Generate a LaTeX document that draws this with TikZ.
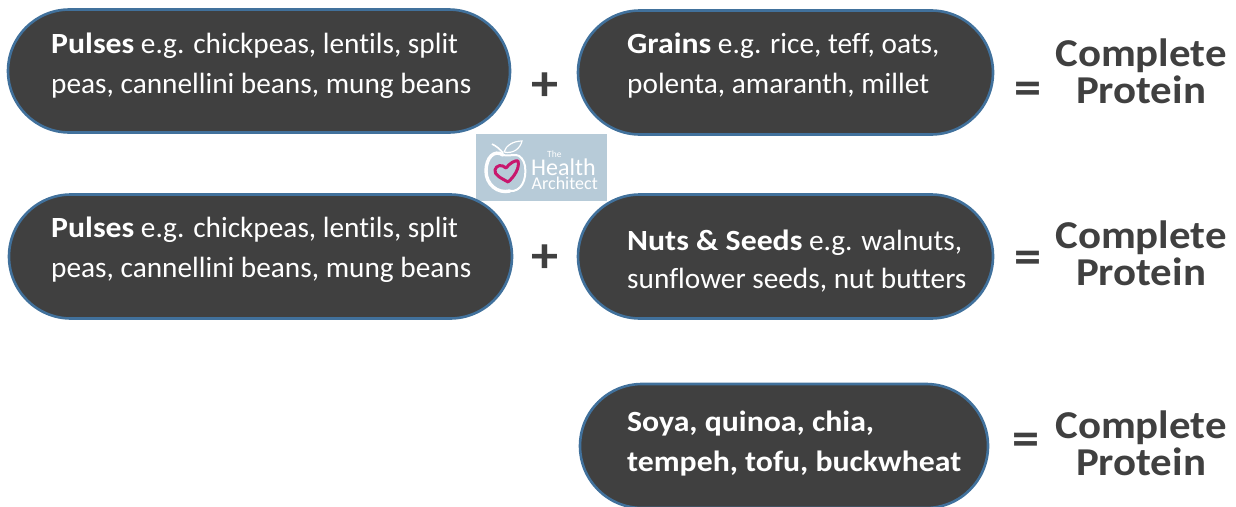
\documentclass[tikz,border=0pt]{standalone}
\usepackage{fontspec}
\setmainfont{Carlito}[RawFeature=-liga,BoldFeatures={FakeStretch=1.085}]
\usetikzlibrary{shapes.misc}
\definecolor{pillfill}{HTML}{404040}
\definecolor{pillline}{HTML}{41719C}
\definecolor{logobg}{HTML}{B7CBD8}
\definecolor{heart}{HTML}{C8186E}
\definecolor{sym}{HTML}{404040}
\tikzset{
 x=1pt,y=-1pt,
 pill/.style={rounded rectangle,rounded rectangle arc length=180,draw=pillline,line width=2.6pt,fill=pillfill,inner sep=0pt},
 pilltext/.style={anchor=base west,inner sep=0pt,text=white,font=\fontsize{29.3pt}{30pt}\selectfont},
 pillbold/.style={pilltext,font=\fontsize{29.3pt}{30pt}\selectfont\bfseries},
 result/.style={anchor=base,inner sep=0pt,text=sym,font=\fontsize{39.5pt}{39pt}\selectfont\bfseries,align=center},
 opsign/.style={anchor=center,inner sep=0pt,text=sym,font=\fontsize{50pt}{42pt}\selectfont\bfseries},
 logotext/.style={anchor=base west,inner sep=0pt,text=white},
}
\begin{document}
\begin{tikzpicture}
\useasboundingbox (0,0) rectangle (1236,506);
\begin{scope}
\clip (0,0) rectangle (1236,506);
% logo
\node[fill=logobg,draw=none,minimum width=131pt,minimum height=67pt,inner sep=0pt] (logo) at (541.5,167.5) {};
\draw[white,line width=3.4pt,line cap=round] (503,155) .. controls (494,149) and (486,158) .. (486,171) .. controls (486,184) and (497,194) .. (510,191);
\draw[white,line width=2pt,line cap=round] (510,191) .. controls (521,192) and (527,180) .. (525,166) .. controls (524,160) and (520,155) .. (516,155) .. controls (511,155) and (507,156) .. (503,155);
\draw[white,line width=1.6pt] (503,153) .. controls (500,149) and (496,146) .. (492,144);
\draw[white,line width=1.2pt] (504,152) .. controls (506,145) and (514,141) .. (522,141) .. controls (520,149) and (513,154) .. (504,152);
\draw[heart,line width=3pt,line join=round] (508,182) .. controls (501,178) and (494,175) .. (495,170) .. controls (496,165) and (502,164) .. (506,168) .. controls (510,163) and (515,160) .. (518,161) .. controls (520,168) and (514,177) .. (508,182) -- cycle;
\node[logotext,font=\fontsize{9.5pt}{10pt}\selectfont] (logothe) at (547,157) {The};
\node[logotext,font=\fontsize{24pt}{22pt}\selectfont] (logohealth) at (531,175) {Health};
\node[logotext,font=\fontsize{18pt}{18pt}\selectfont] (logoarch) at (531.5,189) {Architect};
% pills
\node[pill,minimum width=502pt,minimum height=123pt] (p1) at (259,71) {};
\node[pill,minimum width=415pt,minimum height=124pt] (g1) at (785.5,72.5) {};
\node[pill,minimum width=503pt,minimum height=124pt] (p2) at (260.5,256.5) {};
\node[pill,minimum width=415pt,minimum height=124pt] (n1) at (785.5,256.5) {};
\node[pill,minimum width=408pt,minimum height=124pt] (s1) at (784,446) {};
% pill text
\node[pilltext] (t1a) at (51,53) {\textbf{Pulses} e.g. chickpeas, lentils, split};
\node[pilltext] (t1b) at (51,93) {peas, cannellini beans, mung beans};
\node[pilltext] (t2a) at (627,53) {\textbf{Grains} e.g. rice, teff, oats,};
\node[pilltext] (t2b) at (627,93) {polenta, amaranth, millet};
\node[pilltext] (t3a) at (51,237) {\textbf{Pulses} e.g. chickpeas, lentils, split};
\node[pilltext] (t3b) at (51,277) {peas, cannellini beans, mung beans};
\node[pilltext] (t4a) at (627,250) {\textbf{Nuts \& Seeds} e.g. walnuts,};
\node[pilltext] (t4b) at (627,288) {sunflower seeds, nut butters};
\node[pillbold] (t5a) at (627,431) {Soya, quinoa, chia,};
\node[pillbold] (t5b) at (627,471) {tempeh, tofu, buckwheat};
% operators
\node[opsign] (plus1) at (545,87) {+};
\node[opsign] (plus2) at (545,259) {+};
\node[opsign] (eq1) at (1028,93) {=};
\node[opsign] (eq2) at (1028,262) {=};
\node[opsign] (eq3) at (1026,444) {=};
% results
\node[result] (r1a) at (1141,66) {Complete};
\node[result] (r1b) at (1141,103) {Protein};
\node[result] (r2a) at (1141,248) {Complete};
\node[result] (r2b) at (1141,285) {Protein};
\node[result] (r3a) at (1141,438) {Complete};
\node[result] (r3b) at (1141,475) {Protein};
\end{scope}
\end{tikzpicture}
\end{document}
